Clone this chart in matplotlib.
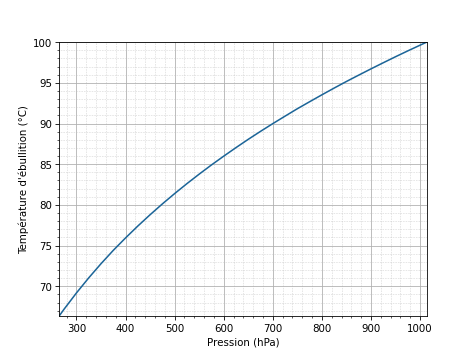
import matplotlib
matplotlib.use('Agg')
import matplotlib.pyplot as plt
from matplotlib.ticker import MultipleLocator

# pression (hPa) et température d'ébullition (°C)
pression = [265, 275, 300, 325, 350, 375, 400, 425, 450, 475, 500, 525, 550, 575, 600,
            625, 650, 675, 700, 725, 750, 775, 800, 825, 850, 875, 900, 925, 950, 975,
            1000, 1013.25]
temperature = [66.36, 67.20, 69.18, 71.03, 72.77, 74.41, 75.94, 77.40, 78.79, 80.12,
               81.39, 82.61, 83.78, 84.91, 85.99, 87.04, 88.06, 89.04, 89.99, 90.91,
               91.82, 92.68, 93.53, 94.36, 95.17, 95.95, 96.72, 97.47, 98.21, 98.93,
               99.63, 100.0]

fig = plt.figure(figsize=(6.4, 4.8), dpi=74.0625)
ax = fig.add_subplot(111)
ax.plot(pression, temperature, color='#1c6598', lw=1.5)

ax.set_xlim(pression[0], pression[-1])
ax.set_ylim(temperature[0], temperature[-1])
ax.xaxis.set_major_locator(MultipleLocator(100))
ax.xaxis.set_minor_locator(MultipleLocator(20))
ax.yaxis.set_major_locator(MultipleLocator(5))
ax.yaxis.set_minor_locator(MultipleLocator(1))
ax.grid(which='major', color='#b0b0b0', lw=0.8)
ax.grid(which='minor', color='#c0c0c0', lw=0.6, ls=':')
ax.set_axisbelow(True)

ax.set_xlabel('Pression (hPa)')
ax.set_ylabel("Température d'ébullition (°C)")

fig.savefig('out.png', dpi=74.0625)
